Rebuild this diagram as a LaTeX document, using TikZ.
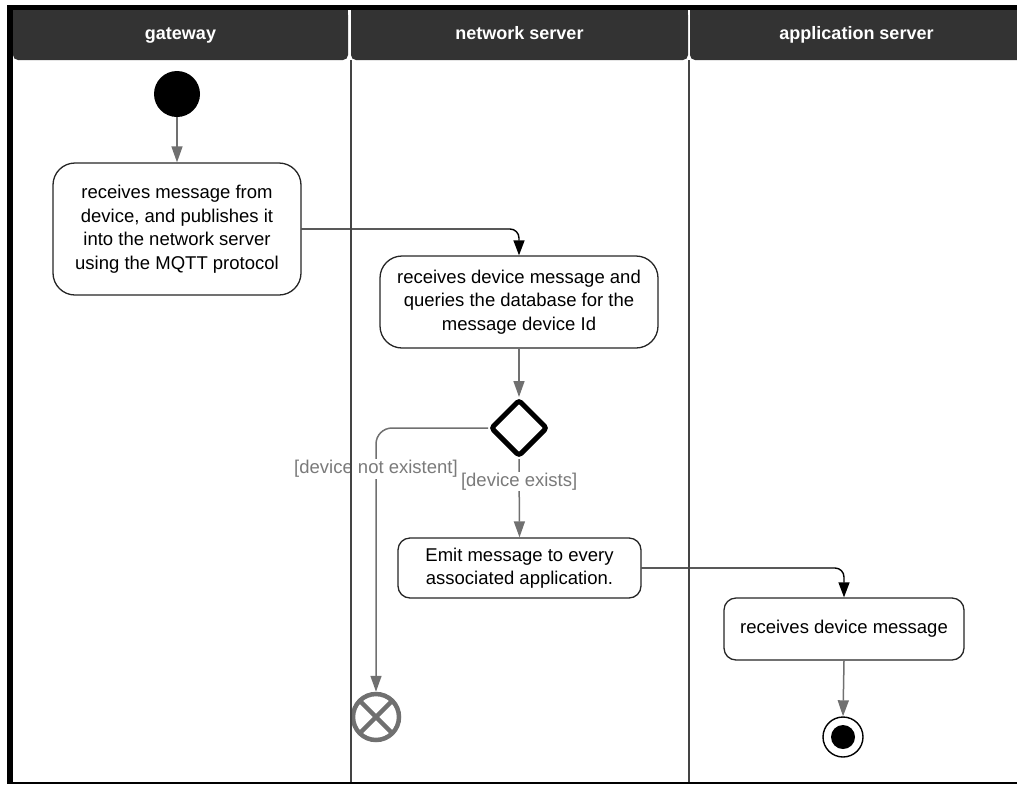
\documentclass[tikz,border=0pt]{standalone}
\usepackage{fontspec}
\setmainfont{Liberation Sans}
\usetikzlibrary{shapes.geometric,arrows.meta}
\definecolor{hdrgray}{HTML}{333333}
\definecolor{conngray}{HTML}{707070}
\definecolor{lblgray}{HTML}{7A7A7A}
\definecolor{lanegray}{HTML}{444444}
\begin{document}
\begin{tikzpicture}[x=1pt,y=-1pt,
  hdr/.style={fill=hdrgray, text=white, font=\fontsize{18}{22}\selectfont\bfseries, minimum height=50pt, inner sep=0pt, text height=13pt, text depth=4pt, rounded corners=5pt},
  actbox/.style={draw=black!85, line width=1.3pt, fill=white, rounded corners=22pt, align=center, inner sep=0pt, font=\fontsize{18.5}{23.5}\selectfont},
  garrow/.style={draw=conngray, line width=1.5pt, -{Triangle[width=11pt,length=16pt]}},
  barrow/.style={draw=black, line width=1.4pt, rounded corners=9pt, -{Triangle[width=11pt,length=15pt]}},
  guard/.style={text=lblgray, fill=white, inner sep=1pt, font=\fontsize{18.5}{22}\selectfont},
  lane/.style={draw=lanegray, line width=1.6pt}
]
\useasboundingbox (0,0) rectangle (1017,785);
% frame
\fill[black] (7,5) rectangle (1017,10);
\fill[black] (7,5) rectangle (13,783);
\fill[black] (7,781.5) rectangle (1017,784);
% headers
\fill[hdrgray] (13,10) rectangle (348,30);
\fill[hdrgray] (351,10) rectangle (688,30);
\fill[hdrgray] (690,10) rectangle (1017,30);
\node[hdr, minimum width=335pt] (h1) at (180.5,35) {gateway};
\node[hdr, minimum width=337pt] (h2) at (519.5,35) {network server};
\node[hdr, minimum width=333pt] (h3) at (856.5,35) {application server};
\fill[hdrgray] (1000,10) rectangle (1017,60);

% nodes
\node[circle, fill=black, minimum size=46pt, inner sep=0pt] (start) at (177,94) {};
\node[actbox, minimum width=248pt, minimum height=132pt] (b1) at (177,229)
  {receives message from\\device, and publishes it\\into the network server\\using the MQTT protocol};
\node[actbox, minimum width=278pt, minimum height=92pt] (b2) at (519,302)
  {receives device message and\\queries the database for the\\message device Id};
\node[diamond, draw=black, line width=5pt, rounded corners=3pt, minimum width=57pt, minimum height=57pt, inner sep=0pt, fill=white] (dec) at (519,428) {};
\node[actbox, minimum width=243pt, minimum height=60pt, rounded corners=12pt] (b3) at (519.5,568)
  {Emit message to every\\associated application.};
\node[actbox, minimum width=240pt, minimum height=62pt, rounded corners=12pt] (b4) at (844,629)
  {receives device message};
\node[circle, draw=conngray, line width=4.5pt, minimum size=46pt, inner sep=0pt,
  path picture={\draw[conngray, line width=4.5pt]
    (path picture bounding box.north west) -- (path picture bounding box.south east)
    (path picture bounding box.north east) -- (path picture bounding box.south west);}] (cross) at (376,717) {};
\node[circle, draw=black, line width=1.4pt, minimum size=40pt, inner sep=0pt] (fin) at (843,737) {};
\fill[black] (fin.center) circle (12pt);

% connectors
\draw[garrow] (start.south) -- (b1.north);
\draw[barrow] (b1.east) -| (b2.north);
\draw[garrow] (b2.south) -- (dec.north);
\draw[garrow, rounded corners=16pt] (dec.west) -| (cross.north);
\node[guard] (gl1) at (376,469) {[device not existent]};
\draw[garrow] (dec.south) -- node[guard, pos=0.29] (gl2) {[device exists]} (b3.north);
\draw[barrow] (b3.east) -| (b4.north);
\draw[garrow] (b4.south) -- (fin.north);

% lane separators
\draw[lane] (351,60) -- (351,782);
\draw[lane] (689,60) -- (689,782);
\end{tikzpicture}
\end{document}
